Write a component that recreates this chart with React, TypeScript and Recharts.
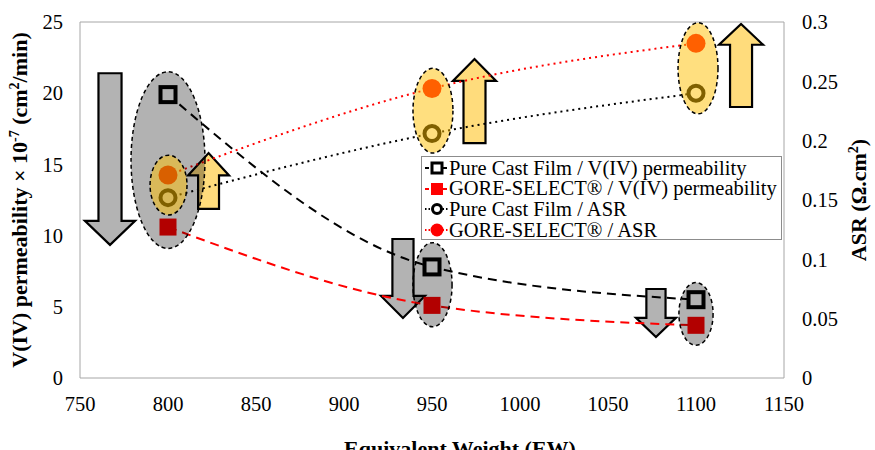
import React from "react";
import { ComposedChart, Line, XAxis, YAxis, ReferenceArea, ReferenceLine, Legend } from "recharts";

const ew = [800, 950, 1100];
const pureCastPerm = [19.9, 7.8, 5.5];
const goreSelectPerm = [10.6, 5.1, 3.7];
const pureCastAsr = [0.152, 0.206, 0.24];
const goreSelectAsr = [0.171, 0.244, 0.282];

const xTicks = [750, 800, 850, 900, 950, 1000, 1050, 1100, 1150];
const permTicks = [0, 5, 10, 15, 20, 25];
const asrTicks = [0, 0.05, 0.1, 0.15, 0.2, 0.25, 0.3];

const GRAY = "#B3B3B3";
const GOLD = "#FFDC7C";
const FONT = "Liberation Serif, DejaVu Serif, serif";

const data = ew.map((w, i) => ({
  ew: w,
  pcfPerm: pureCastPerm[i],
  gsPerm: goreSelectPerm[i],
  pcfAsr: pureCastAsr[i],
  gsAsr: goreSelectAsr[i],
}));

// highlight ovals, in EW / permeability units
const grayOvals = [
  { x1: 779, x2: 821, y1: 9.1, y2: 21.5 },
  { x1: 939.2, x2: 961.4, y1: 3.6, y2: 9.5 },
  { x1: 1090.3, x2: 1109.7, y1: 2.3, y2: 6.7 },
];
const goldOvals = [
  { x1: 789.8, x2: 810.8, y1: 11.45, y2: 15.65 },
  { x1: 939.2, x2: 961.9, y1: 15.8, y2: 21.75 },
  { x1: 1089.8, x2: 1112.5, y1: 18.55, y2: 24.95 },
];

// trend arrows: shaft is a fraction of the box width, head a fraction of its height
const arrows = [
  { x1: 752.8, x2: 781.3, y1: 9.35, y2: 21.4, dir: "down", shaft: 0.46, head: 0.14, fill: GRAY },
  { x1: 811.4, x2: 834.7, y1: 11.87, y2: 15.8, dir: "up", shaft: 0.51, head: 0.4, fill: GOLD },
  { x1: 921.0, x2: 946.0, y1: 4.21, y2: 9.76, dir: "down", shaft: 0.48, head: 0.28, fill: GRAY },
  { x1: 961.9, x2: 986.4, y1: 16.5, y2: 22.4, dir: "up", shaft: 0.51, head: 0.26, fill: GOLD },
  { x1: 1065.9, x2: 1088.6, y1: 2.88, y2: 6.25, dir: "down", shaft: 0.48, head: 0.4, fill: GRAY },
  { x1: 1113.1, x2: 1138.1, y1: 19.03, y2: 24.86, dir: "up", shaft: 0.5, head: 0.25, fill: GOLD },
];

const ovalShape = (fill: string, opacity: number) => (p: any) => (
  <ellipse
    cx={p.x + p.width / 2}
    cy={p.y + p.height / 2}
    rx={p.width / 2}
    ry={p.height / 2}
    fill={fill}
    fillOpacity={opacity}
    stroke="#000"
    strokeWidth={1.5}
    strokeDasharray="4 3"
  />
);

const arrowShape = (a: (typeof arrows)[number]) => (p: any) => {
  const { x, y, width: w, height: h } = p;
  const cx = x + w / 2;
  const sw = (w * a.shaft) / 2;
  const hl = h * a.head;
  const pts =
    a.dir === "down"
      ? [[cx - sw, y], [cx + sw, y], [cx + sw, y + h - hl], [x + w, y + h - hl], [cx, y + h], [x, y + h - hl], [cx - sw, y + h - hl]]
      : [[cx - sw, y + h], [cx + sw, y + h], [cx + sw, y + hl], [x + w, y + hl], [cx, y], [x, y + hl], [cx - sw, y + hl]];
  return <polygon points={pts.map((q) => q.join(",")).join(" ")} fill={a.fill} stroke="#000" strokeWidth={2.2} strokeLinejoin="miter" />;
};

const hollowSquare = (p: any) => (
  <rect key={`hs${p.index}`} x={p.cx - 7.5} y={p.cy - 7.5} width={15} height={15} fill="#fff" stroke="#000" strokeWidth={4} />
);
const redSquare = (p: any) => (
  <rect key={`rs${p.index}`} x={p.cx - 8.5} y={p.cy - 8.5} width={17} height={17} fill="#FF0000" />
);
const hollowCircle = (p: any) => (
  <circle key={`hc${p.index}`} cx={p.cx} cy={p.cy} r={7.5} fill="#fff" stroke="#000" strokeWidth={4} />
);
const redCircle = (p: any) => <circle key={`rc${p.index}`} cx={p.cx} cy={p.cy} r={9.5} fill="#FF0000" />;

const legendItems = [
  { label: "Pure Cast Film / V(IV) permeability", color: "#000", dash: "4 2", marker: "hollowSquare" },
  { label: "GORE-SELECT® / V(IV) permeability", color: "#FF0000", dash: "4 2", marker: "square" },
  { label: "Pure Cast Film / ASR", color: "#000", dash: "1.5 2", marker: "hollowCircle" },
  { label: "GORE-SELECT® / ASR", color: "#FF0000", dash: "1.5 2", marker: "circle" },
];

function LegendIcon({ color, dash, marker }: { color: string; dash: string; marker: string }) {
  return (
    <svg width={24} height={20} style={{ flex: "none" }}>
      <line x1={0} y1={10} x2={24} y2={10} stroke={color} strokeWidth={2} strokeDasharray={dash} />
      {marker === "hollowSquare" && <rect x={7} y={5} width={10} height={10} fill="#fff" stroke="#000" strokeWidth={3} />}
      {marker === "square" && <rect x={6} y={4} width={12} height={12} fill="#FF0000" />}
      {marker === "hollowCircle" && <circle cx={12} cy={10} r={4.5} fill="#fff" stroke="#000" strokeWidth={3} />}
      {marker === "circle" && <circle cx={12} cy={10} r={6.5} fill="#FF0000" />}
    </svg>
  );
}

function LegendBox() {
  return (
    <div
      style={{
        width: 361,
        height: 84,
        boxSizing: "border-box",
        border: "1px solid #8C8C8C",
        background: "#fff",
        padding: "1px 0 0 3px",
        fontFamily: FONT,
        fontSize: 20.5,
        color: "#000",
      }}
    >
      {legendItems.map((it) => (
        <div key={it.label} style={{ display: "flex", alignItems: "center", height: 20.6, whiteSpace: "nowrap" }}>
          <LegendIcon color={it.color} dash={it.dash} marker={it.marker} />
          <span>{it.label}</span>
        </div>
      ))}
    </div>
  );
}

const tickStyle = { fill: "#000", fontSize: 20.5, fontFamily: FONT };

const PermTitle = ({ viewBox }: any) => {
  const cx = viewBox.x + 27;
  const cy = viewBox.y + viewBox.height / 2;
  return (
    <text x={cx} y={cy} transform={`rotate(-90, ${cx}, ${cy})`} textAnchor="middle" style={{ fontFamily: FONT }} fontWeight="bold" fontSize={22} fill="#000">
      V(IV) permeability × 10
      <tspan dy={-8} fontSize={14}>-7</tspan>
      <tspan dy={8}> (cm</tspan>
      <tspan dy={-8} fontSize={14}>2</tspan>
      <tspan dy={8}>/min)</tspan>
    </text>
  );
};

const AsrTitle = ({ viewBox }: any) => {
  const cx = viewBox.x + 82;
  const cy = viewBox.y + viewBox.height / 2;
  return (
    <text x={cx} y={cy} transform={`rotate(-90, ${cx}, ${cy})`} textAnchor="middle" style={{ fontFamily: FONT }} fontWeight="bold" fontSize={22} fill="#000">
      ASR (Ω.cm
      <tspan dy={-8} fontSize={14}>2</tspan>
      <tspan dy={8}>)</tspan>
    </text>
  );
};

const EwTitle = ({ viewBox }: any) => (
  <text x={viewBox.x + viewBox.width / 2 + 28} y={viewBox.y + 78} textAnchor="middle" style={{ fontFamily: FONT }} fontWeight="bold" fontSize={22} fill="#000">
    Equivalent Weight (EW)
  </text>
);

export default function App() {
  return (
    <div style={{ fontFamily: FONT }}>
      <style>{`body{margin:0}`}</style>
      <ComposedChart width={875} height={450} data={data} margin={{ top: 22, right: 0, bottom: 0, left: 0 }} style={{ fontFamily: FONT }}>
        <XAxis
          type="number"
          dataKey="ew"
          domain={[750, 1150]}
          ticks={xTicks}
          height={72}
          tick={tickStyle}
          tickLine={false}
          tickSize={0}
          tickMargin={18}
          axisLine={{ stroke: "#A6A6A6" }}
          label={{ content: EwTitle }}
        />
        <YAxis
          yAxisId="left"
          domain={[0, 25]}
          ticks={permTicks}
          width={80}
          tick={tickStyle}
          tickLine={false}
          tickSize={0}
          tickMargin={17}
          axisLine={{ stroke: "#A6A6A6" }}
          label={{ content: PermTitle }}
        />
        <YAxis
          yAxisId="right"
          orientation="right"
          domain={[0, 0.3]}
          ticks={asrTicks}
          width={91}
          tick={tickStyle}
          tickLine={false}
          tickSize={0}
          tickMargin={18}
          axisLine={{ stroke: "#A6A6A6" }}
          label={{ content: AsrTitle }}
        />
        <ReferenceLine yAxisId="left" y={25} stroke="#A6A6A6" />

        {arrows.map((a, i) => (
          <ReferenceArea key={`arrow${i}`} yAxisId="left" x1={a.x1} x2={a.x2} y1={a.y1} y2={a.y2} shape={arrowShape(a)} zIndex={50} />
        ))}

        <Line yAxisId="left" dataKey="pcfPerm" type="monotone" stroke="#000" strokeWidth={2} strokeDasharray="9 6" dot={hollowSquare} activeDot={false} isAnimationActive={false} />
        <Line yAxisId="left" dataKey="gsPerm" type="monotone" stroke="#FF0000" strokeWidth={2} strokeDasharray="9 6" dot={redSquare} activeDot={false} isAnimationActive={false} />
        <Line yAxisId="right" dataKey="pcfAsr" type="monotone" stroke="#000" strokeWidth={2} strokeDasharray="2 4" dot={hollowCircle} activeDot={false} isAnimationActive={false} />
        <Line yAxisId="right" dataKey="gsAsr" type="monotone" stroke="#FF0000" strokeWidth={2} strokeDasharray="2 4" dot={redCircle} activeDot={false} isAnimationActive={false} />

        {grayOvals.map((o, i) => (
          <ReferenceArea key={`gray${i}`} yAxisId="left" x1={o.x1} x2={o.x2} y1={o.y1} y2={o.y2} shape={ovalShape("#000", 0.3)} zIndex={1500} />
        ))}
        {goldOvals.map((o, i) => (
          <ReferenceArea key={`gold${i}`} yAxisId="left" x1={o.x1} x2={o.x2} y1={o.y1} y2={o.y2} shape={ovalShape("#FFC000", 0.5)} zIndex={1500} />
        ))}

        <Legend
          layout="vertical"
          align="center"
          verticalAlign="middle"
          content={() => <LegendBox />}
          wrapperStyle={{ left: 421, top: 156, width: 361, height: 84 }}
        />
      </ComposedChart>
    </div>
  );
}
